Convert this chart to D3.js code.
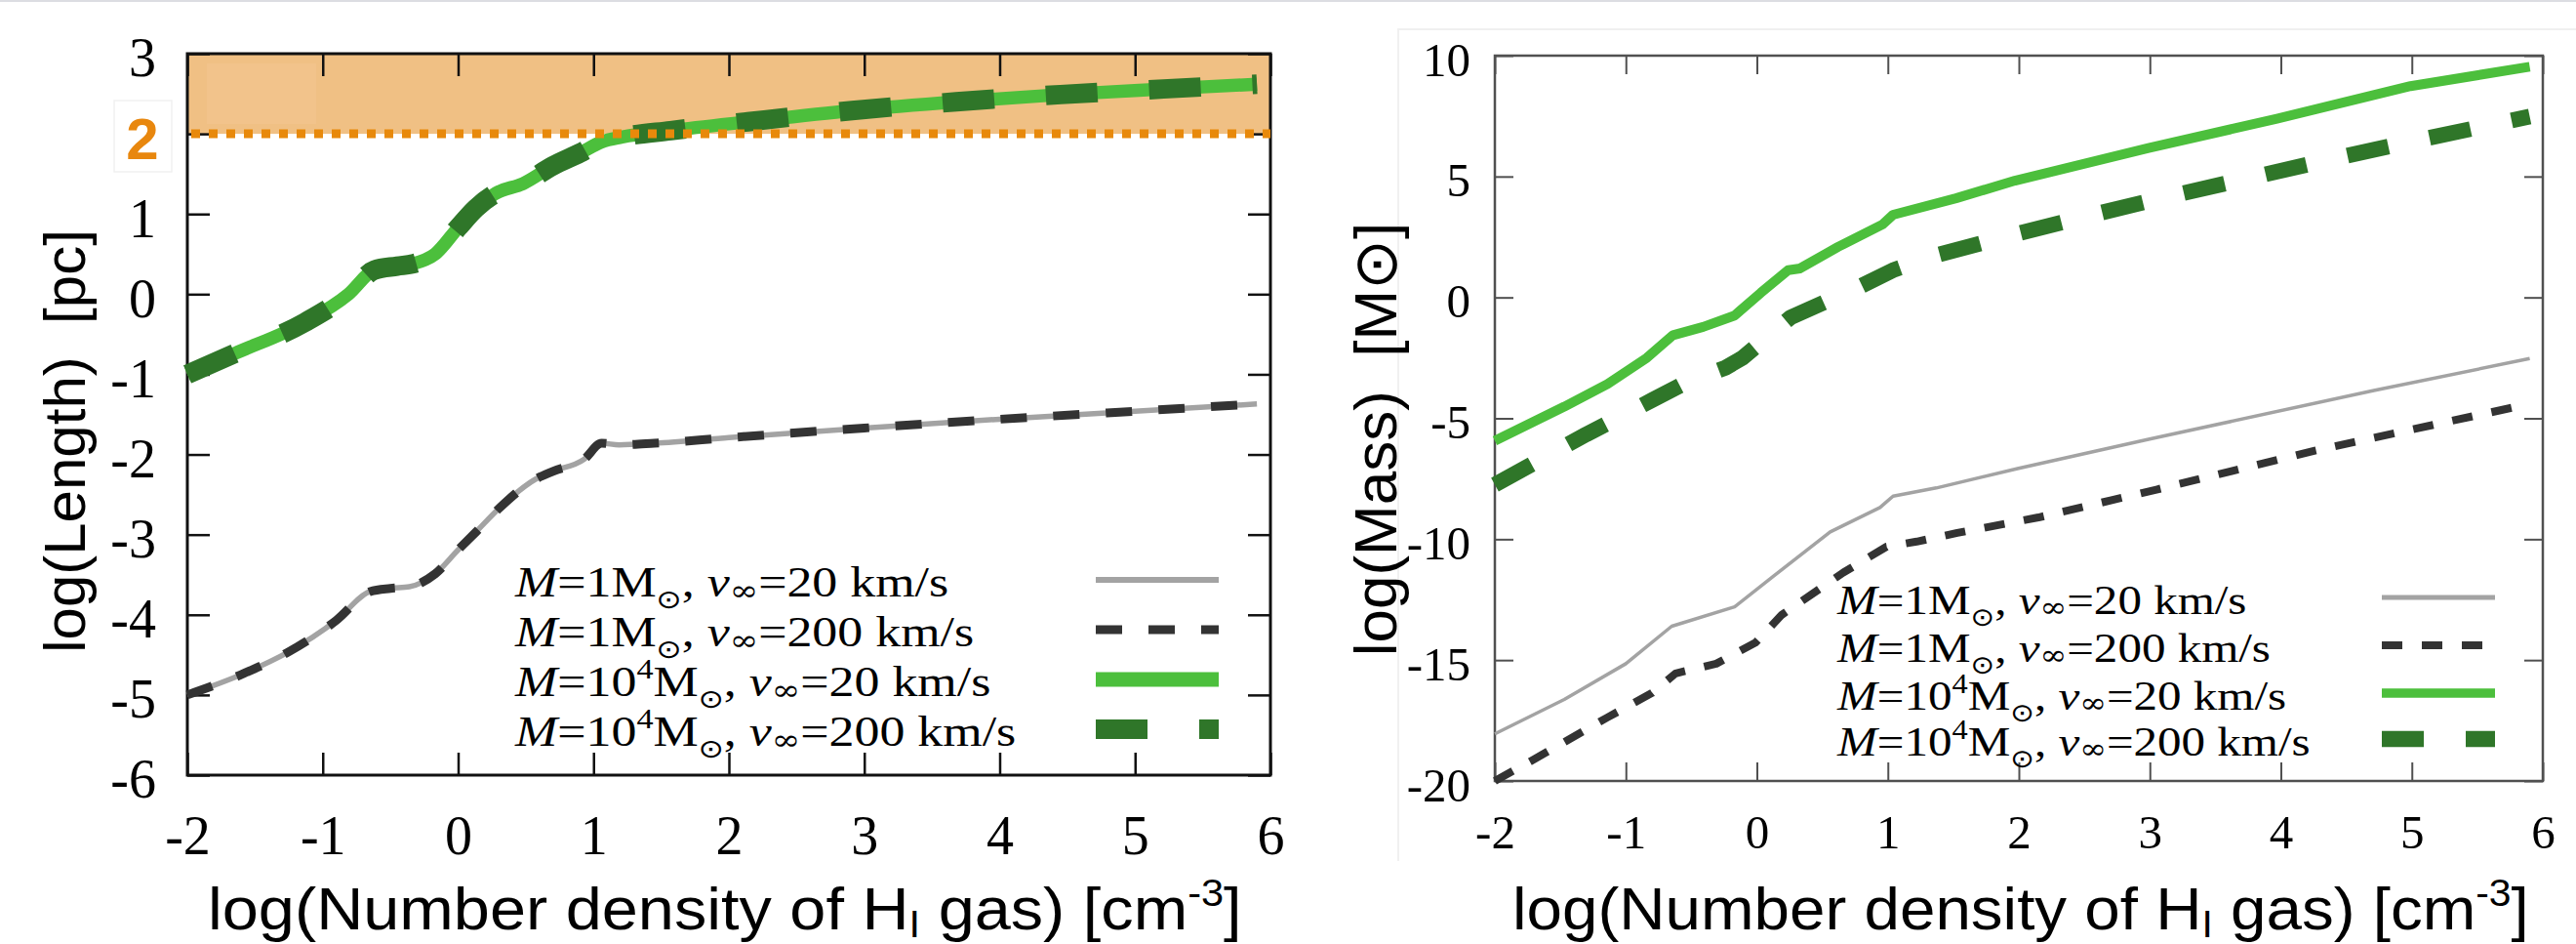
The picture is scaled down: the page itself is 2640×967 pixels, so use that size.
<!DOCTYPE html>
<html>
<head>
<meta charset="utf-8">
<script src="https://cdnjs.cloudflare.com/ajax/libs/d3/7.8.5/d3.min.js"></script>
<style>
  body { margin: 0; background: #fff; }
  svg { display: block; }
  .tick text { font-family: "Liberation Serif", "Times New Roman", serif; fill: #000; }
  .title { font-family: "Liberation Sans", Arial, sans-serif; fill: #000; }
  .legend text { font-family: "Liberation Serif", "Times New Roman", serif; fill: #000; }
</style>
</head>
<body>
<svg id="chart" width="2640" height="967"></svg>
<script>
// Left panel: log(Length) [pc] vs log(n_HI)
var lenX_M1 = [-2.0, -1.58, -1.26, -0.90, -0.65, -0.5, -0.36, -0.17, 0.0, 0.13, 0.31, 0.57, 0.70, 0.93, 1.06, 1.19, 1.45, 2.0, 3.0, 4.0, 5.0, 5.9];
var len_M1_v20 = [-5.0, -4.73, -4.47, -4.07, -3.71, -3.67, -3.65, -3.49, -3.19, -2.97, -2.66, -2.31, -2.21, -2.06, -1.86, -1.88, -1.86, -1.79, -1.67, -1.56, -1.46, -1.37];
var len_M1_v200 = [-5.0, -4.73, -4.47, -4.07, -3.71, -3.67, -3.65, -3.49, -3.19, -2.97, -2.66, -2.31, -2.21, -2.06, -1.86, -1.88, -1.86, -1.79, -1.67, -1.56, -1.46, -1.37];

var lenX_M4 = [-2.0, -1.65, -1.13, -0.81, -0.62, -0.45, -0.33, -0.17, 0.0, 0.13, 0.28, 0.48, 0.70, 0.90, 1.06, 1.21, 1.57, 2.14, 2.91, 3.68, 4.45, 5.21, 5.9];
var len_M4_v20 = [-1.0, -0.74, -0.35, 0.0, 0.30, 0.35, 0.38, 0.50, 0.83, 1.07, 1.26, 1.38, 1.60, 1.76, 1.90, 1.96, 2.04, 2.15, 2.29, 2.40, 2.49, 2.56, 2.62];
var len_M4_v200 = [-1.0, -0.74, -0.35, 0.0, 0.30, 0.35, 0.38, 0.50, 0.83, 1.07, 1.26, 1.38, 1.60, 1.76, 1.90, 1.96, 2.04, 2.15, 2.29, 2.40, 2.49, 2.56, 2.62];

// Right panel: log(Mass) [Msun] vs log(n_HI)
var massX_M1_v20 = [-2.0, -1.47, -1.0, -0.65, -0.17, 0.13, 0.56, 0.94, 1.04, 1.37, 1.99, 2.99, 4.71, 5.9];
var mass_M1_v20 = [-18.05, -16.63, -15.15, -13.6, -12.8, -11.52, -9.7, -8.69, -8.22, -7.88, -7.08, -5.87, -3.85, -2.53];

var massX_M1_v200 = [-2.0, -1.7, -1.14, -0.8, -0.62, -0.31, -0.01, 0.19, 0.66, 0.99, 1.22, 1.53, 2.15, 3.05, 4.26, 5.85];
var mass_M1_v200 = [-20.0, -19.1, -17.37, -16.36, -15.55, -15.15, -14.28, -13.13, -11.38, -10.31, -10.1, -9.74, -9.1, -7.95, -6.34, -4.46];

var massX_M4_v20 = [-2.0, -1.47, -1.14, -0.84, -0.64, -0.41, -0.17, 0.03, 0.24, 0.33, 0.62, 0.96, 1.04, 1.52, 1.97, 2.99, 3.97, 4.99, 5.9];
var mass_M4_v20 = [-5.93, -4.52, -3.58, -2.50, -1.56, -1.22, -0.75, 0.19, 1.13, 1.20, 2.09, 3.02, 3.42, 4.10, 4.83, 6.18, 7.39, 8.74, 9.54];

var massX_M4_v200 = [-2.0, -1.3, -0.8, -0.55, -0.24, -0.11, 0.26, 0.79, 1.05, 1.32, 1.92, 2.51, 3.13, 3.73, 4.32, 4.94, 5.55, 5.9];
var mass_M4_v200 = [-7.75, -5.66, -4.25, -3.55, -2.91, -2.5, -0.82, 0.46, 1.15, 1.67, 2.54, 3.35, 4.16, 4.90, 5.64, 6.38, 7.08, 7.48];

// Axis ticks
var xTicks = [-2, -1, 0, 1, 2, 3, 4, 5, 6];
var lenTicks = [3, 2, 1, 0, -1, -2, -3, -4, -5, -6];
var massTicks = [10, 5, 0, -5, -10, -15, -20];
var highlightLevel = 2; // log(Length) = 2 pc

// Legend entries: mass exponent (0 -> 1 Msun, 4 -> 10^4 Msun), wind speed
var legendMassExp = [0, 0, 4, 4];
var legendSpeed = [20, 200, 20, 200];

var svg = d3.select("#chart");

var styles = [
    { color: "#a3a3a3", dash: null },
    { color: "#333333", dash: "dark" },
    { color: "#4cbf3c", dash: null },
    { color: "#2f7629", dash: "green" }
];

var xLen = d3.scaleLinear().domain([-2, 6]).range([192, 1302]);
var yLen = d3.scaleLinear().domain([-6, 3]).range([794, 55]);
var xMass = d3.scaleLinear().domain([-2, 6]).range([1532, 2606]);
var yMass = d3.scaleLinear().domain([-20, 10]).range([800, 57]);

// faint borders of the pasted figure
svg.append("line").attr("x1", 0).attr("x2", 2640).attr("y1", 1).attr("y2", 1)
    .attr("stroke", "#dcdde2").attr("stroke-width", 2);
svg.append("path").attr("d", "M1433,882V30H2640")
    .attr("fill", "none").attr("stroke", "#f0f0f0").attr("stroke-width", 2);

function drawPanel(opt) {
    var g = svg.append("g");
    var xs = opt.x, ys = opt.y;
    var xr = xs.range(), yr = ys.range();

    if (opt.band) {
        g.append("rect")
            .attr("x", xr[0]).attr("y", yr[1])
            .attr("width", xr[1] - xr[0]).attr("height", ys(opt.band) - yr[1])
            .attr("fill", "#f0c084");
        g.append("rect")
            .attr("x", 212).attr("y", 65).attr("width", 112).attr("height", 62)
            .attr("fill", "#f2c38b");
    }

    // bottom axis with labels
    var bottom = g.append("g")
        .attr("transform", "translate(0," + yr[0] + ")")
        .call(d3.axisBottom(xs).tickValues(xTicks).tickSize(-opt.tick).tickSizeOuter(0)
            .tickPadding(opt.xPad).tickFormat(function(d) { return String(d); }));
    g.append("g")
        .attr("transform", "translate(0," + yr[1] + ")")
        .call(d3.axisTop(xs).tickValues(xTicks).tickSize(-opt.tick).tickSizeOuter(0).tickFormat(""));

    var left = g.append("g")
        .attr("transform", "translate(" + xr[0] + ",0)")
        .call(d3.axisLeft(ys).tickValues(opt.yTicks).tickSize(-opt.tick).tickSizeOuter(0)
            .tickPadding(opt.yPad)
            .tickFormat(function(d) { return d === opt.band ? "" : String(d); }));
    g.append("g")
        .attr("transform", "translate(" + xr[1] + ",0)")
        .call(d3.axisRight(ys).tickValues(opt.yTicks).tickSize(-opt.tick).tickSizeOuter(0).tickFormat(""));

    g.selectAll(".domain").remove();
    g.selectAll(".tick line").attr("stroke", opt.axisColor).attr("stroke-width", opt.tickWidth);
    bottom.selectAll("text").style("font-size", opt.fontSize + "px");
    left.selectAll("text").style("font-size", opt.fontSize + "px").attr("dy", "0.41em");

    g.append("rect")
        .attr("x", xr[0]).attr("y", yr[1])
        .attr("width", xr[1] - xr[0]).attr("height", yr[0] - yr[1])
        .attr("fill", "none").attr("stroke", opt.axisColor).attr("stroke-width", opt.frameWidth);

    // data lines
    var line = d3.line()
        .x(function(d) { return xs(d[0]); })
        .y(function(d) { return ys(d[1]); })
        .curve(opt.curve);

    opt.series.forEach(function(s, i) {
        var pts = d3.zip(s.x, s.y);
        var st = styles[i];
        g.append("path")
            .datum(pts)
            .attr("d", line)
            .attr("fill", "none")
            .attr("stroke", st.color)
            .attr("stroke-width", opt.widths[i])
            .attr("stroke-linejoin", "round")
            .attr("stroke-dasharray", st.dash ? opt.dashes[st.dash] : null);
    });

    if (opt.band) {
        g.append("line")
            .attr("x1", xr[0] + 4).attr("x2", xr[1])
            .attr("y1", ys(opt.band)).attr("y2", ys(opt.band))
            .attr("stroke", "#e8890b").attr("stroke-width", 9)
            .attr("stroke-dasharray", "9 9");
        g.append("rect")
            .attr("x", 117).attr("y", 103).attr("width", 59).attr("height", 73)
            .attr("fill", "#fff").attr("stroke", "#f1f1f1").attr("stroke-width", 1.5);
        g.append("text")
            .attr("x", 146).attr("y", ys(opt.band) + 26)
            .attr("text-anchor", "middle")
            .style("font-family", "'Liberation Sans', Arial, sans-serif")
            .style("font-weight", "bold")
            .style("font-size", "60px")
            .attr("fill", "#e8870e")
            .text(String(opt.band));
    }

    // axis titles
    var xt = g.append("text").attr("class", "title")
        .attr("x", 0).attr("y", 0)
        .style("font-size", "61px");
    xt.append("tspan").text("log(Number density of H");
    xt.append("tspan").attr("dy", 8).style("font-size", "38px").text("I");
    xt.append("tspan").attr("dy", -8).text(" gas) [cm");
    xt.append("tspan").attr("dy", -24).style("font-size", "38px").text("-3");
    xt.append("tspan").attr("dy", 24).text("]");
    var k = opt.xTitleWidth / xt.node().getComputedTextLength();
    xt.attr("transform", "translate(" + opt.xTitleX + ",952) scale(" + k + ",1)");

    var cx = opt.yTitle[0], cy = opt.yTitle[1];
    g.append("text").attr("class", "title")
        .attr("x", cx).attr("y", cy)
        .attr("transform", "rotate(-90," + cx + "," + cy + ")")
        .attr("text-anchor", "middle")
        .style("font-size", opt.yTitle[2] + "px")
        .style("white-space", "pre")
        .text(opt.yTitleText);

    drawLegend(g, opt);
}

function drawLegend(g, opt) {
    var lg = g.append("g").attr("class", "legend");
    var fs = opt.legend.fontSize;
    legendMassExp.forEach(function(m, i) {
        var base = opt.legend.baselines[i];
        var t = lg.append("text")
            .attr("transform", "translate(" + opt.legend.x + "," + base + ") scale(" + opt.legend.stretch + ",1)")
            .style("font-size", fs + "px");
        t.append("tspan").style("font-style", "italic").text("M");
        if (m === 0) {
            t.append("tspan").text("=1M");
        } else {
            t.append("tspan").text("=10");
            t.append("tspan").attr("dy", -0.4 * fs).style("font-size", (0.66 * fs) + "px").text(String(m));
            t.append("tspan").attr("dy", 0.4 * fs).text("M");
        }
        t.append("tspan").attr("dy", 0.28 * fs)
            .style("font-family", "'DejaVu Sans', sans-serif")
            .style("font-size", (0.6 * fs) + "px").text("\u2299");
        t.append("tspan").attr("dy", -0.28 * fs).text(", ");
        t.append("tspan").style("font-style", "italic").text("v");
        t.append("tspan").attr("dy", 0.08 * fs)
            .style("font-family", "'DejaVu Serif', serif")
            .style("font-size", (0.68 * fs) + "px").text("\u221E");
        t.append("tspan").attr("dy", -0.08 * fs).text("=" + legendSpeed[i] + " km/s");

        var st = styles[i];
        lg.append("line")
            .attr("x1", opt.legend.sample[0]).attr("x2", opt.legend.sample[1])
            .attr("y1", base - 17).attr("y2", base - 17)
            .attr("stroke", st.color)
            .attr("stroke-width", opt.legend.widths[i])
            .attr("stroke-dasharray", st.dash ? opt.dashes[st.dash] : null);
    });
}

drawPanel({
    x: xLen, y: yLen, yTicks: lenTicks, band: highlightLevel,
    tick: 23, xPad: 41, yPad: 32, fontSize: 56,
    axisColor: "#111", tickWidth: 2.5, frameWidth: 3,
    curve: d3.curveMonotoneX,
    widths: [5.5, 9, 13.5, 20],
    dashes: { dark: "27 27", green: "53 53" },
    series: [
        { x: lenX_M1, y: len_M1_v20 },
        { x: lenX_M1, y: len_M1_v200 },
        { x: lenX_M4, y: len_M4_v20 },
        { x: lenX_M4, y: len_M4_v200 }
    ],
    xTitleX: 213, xTitleWidth: 1060,
    yTitle: [87, 452, 60], yTitleText: "log(Length)  [pc]",
    legend: { x: 528, baselines: [611, 662, 713, 764], sample: [1123, 1249],
              fontSize: 44, stretch: 1.18, widths: [6, 9, 15, 20] }
});

drawPanel({
    x: xMass, y: yMass, yTicks: massTicks, band: null,
    tick: 19, xPad: 34, yPad: 25, fontSize: 49,
    axisColor: "#505050", tickWidth: 2, frameWidth: 2.5,
    curve: d3.curveLinear,
    widths: [3.5, 8, 10, 16],
    dashes: { dark: "21 20", green: "43 43" },
    series: [
        { x: massX_M1_v20, y: mass_M1_v20 },
        { x: massX_M1_v200, y: mass_M1_v200 },
        { x: massX_M4_v20, y: mass_M4_v20 },
        { x: massX_M4_v200, y: mass_M4_v200 }
    ],
    xTitleX: 1550, xTitleWidth: 1042,
    yTitle: [1431, 450, 62], yTitleText: "log(Mass)  [M\u2299]",
    legend: { x: 1883, baselines: [629, 678, 727, 774], sample: [2441, 2557],
              fontSize: 43, stretch: 1.14, widths: [5, 8, 9.5, 16.5] }
});
</script>
</body>
</html>
